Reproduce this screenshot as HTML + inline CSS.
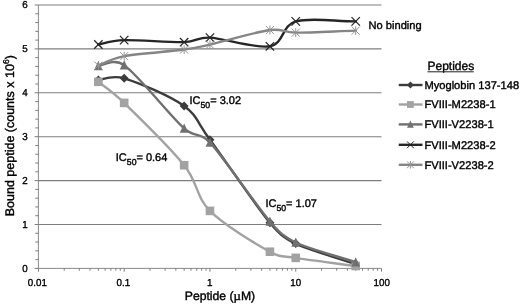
<!DOCTYPE html>
<html><head><meta charset="utf-8"><style>
html,body{margin:0;padding:0;background:#fff;}
svg{display:block;opacity:0.999;will-change:transform}
text{text-rendering:geometricPrecision;font-family:"Liberation Sans",sans-serif;fill:#000;stroke:#000;stroke-width:0.38px;}
.tk{stroke-width:0.35px}
</style></head><body>
<svg width="520" height="304" viewBox="0 0 520 304">
<rect width="520" height="304" fill="#fff"/>
<line x1="38.40" y1="224.50" x2="381.5" y2="224.50" stroke="#7e7e7e" stroke-width="1.1"/>
<line x1="38.40" y1="180.60" x2="381.5" y2="180.60" stroke="#7e7e7e" stroke-width="1.1"/>
<line x1="38.40" y1="136.70" x2="381.5" y2="136.70" stroke="#7e7e7e" stroke-width="1.1"/>
<line x1="38.40" y1="92.80" x2="381.5" y2="92.80" stroke="#7e7e7e" stroke-width="1.1"/>
<line x1="38.40" y1="48.90" x2="381.5" y2="48.90" stroke="#7e7e7e" stroke-width="1.1"/>
<line x1="38.40" y1="5.00" x2="381.5" y2="5.00" stroke="#7e7e7e" stroke-width="1.1"/>
<line x1="38.40" y1="5.00" x2="38.40" y2="268.40" stroke="#7c7c7c" stroke-width="0.9"/>
<line x1="38.40" y1="268.40" x2="381.5" y2="268.40" stroke="#7c7c7c" stroke-width="0.9"/>
<line x1="34.60" y1="268.40" x2="38.40" y2="268.40" stroke="#7c7c7c" stroke-width="1"/>
<line x1="35.30" y1="259.62" x2="38.40" y2="259.62" stroke="#7c7c7c" stroke-width="1"/>
<line x1="35.30" y1="250.84" x2="38.40" y2="250.84" stroke="#7c7c7c" stroke-width="1"/>
<line x1="35.30" y1="242.06" x2="38.40" y2="242.06" stroke="#7c7c7c" stroke-width="1"/>
<line x1="35.30" y1="233.28" x2="38.40" y2="233.28" stroke="#7c7c7c" stroke-width="1"/>
<line x1="34.60" y1="224.50" x2="38.40" y2="224.50" stroke="#7c7c7c" stroke-width="1"/>
<line x1="35.30" y1="215.72" x2="38.40" y2="215.72" stroke="#7c7c7c" stroke-width="1"/>
<line x1="35.30" y1="206.94" x2="38.40" y2="206.94" stroke="#7c7c7c" stroke-width="1"/>
<line x1="35.30" y1="198.16" x2="38.40" y2="198.16" stroke="#7c7c7c" stroke-width="1"/>
<line x1="35.30" y1="189.38" x2="38.40" y2="189.38" stroke="#7c7c7c" stroke-width="1"/>
<line x1="34.60" y1="180.60" x2="38.40" y2="180.60" stroke="#7c7c7c" stroke-width="1"/>
<line x1="35.30" y1="171.82" x2="38.40" y2="171.82" stroke="#7c7c7c" stroke-width="1"/>
<line x1="35.30" y1="163.04" x2="38.40" y2="163.04" stroke="#7c7c7c" stroke-width="1"/>
<line x1="35.30" y1="154.26" x2="38.40" y2="154.26" stroke="#7c7c7c" stroke-width="1"/>
<line x1="35.30" y1="145.48" x2="38.40" y2="145.48" stroke="#7c7c7c" stroke-width="1"/>
<line x1="34.60" y1="136.70" x2="38.40" y2="136.70" stroke="#7c7c7c" stroke-width="1"/>
<line x1="35.30" y1="127.92" x2="38.40" y2="127.92" stroke="#7c7c7c" stroke-width="1"/>
<line x1="35.30" y1="119.14" x2="38.40" y2="119.14" stroke="#7c7c7c" stroke-width="1"/>
<line x1="35.30" y1="110.36" x2="38.40" y2="110.36" stroke="#7c7c7c" stroke-width="1"/>
<line x1="35.30" y1="101.58" x2="38.40" y2="101.58" stroke="#7c7c7c" stroke-width="1"/>
<line x1="34.60" y1="92.80" x2="38.40" y2="92.80" stroke="#7c7c7c" stroke-width="1"/>
<line x1="35.30" y1="84.02" x2="38.40" y2="84.02" stroke="#7c7c7c" stroke-width="1"/>
<line x1="35.30" y1="75.24" x2="38.40" y2="75.24" stroke="#7c7c7c" stroke-width="1"/>
<line x1="35.30" y1="66.46" x2="38.40" y2="66.46" stroke="#7c7c7c" stroke-width="1"/>
<line x1="35.30" y1="57.68" x2="38.40" y2="57.68" stroke="#7c7c7c" stroke-width="1"/>
<line x1="34.60" y1="48.90" x2="38.40" y2="48.90" stroke="#7c7c7c" stroke-width="1"/>
<line x1="35.30" y1="40.12" x2="38.40" y2="40.12" stroke="#7c7c7c" stroke-width="1"/>
<line x1="35.30" y1="31.34" x2="38.40" y2="31.34" stroke="#7c7c7c" stroke-width="1"/>
<line x1="35.30" y1="22.56" x2="38.40" y2="22.56" stroke="#7c7c7c" stroke-width="1"/>
<line x1="35.30" y1="13.78" x2="38.40" y2="13.78" stroke="#7c7c7c" stroke-width="1"/>
<line x1="34.60" y1="5.00" x2="38.40" y2="5.00" stroke="#7c7c7c" stroke-width="1"/>
<line x1="38.40" y1="268.40" x2="38.40" y2="271.70" stroke="#7c7c7c" stroke-width="1"/>
<line x1="64.22" y1="268.40" x2="64.22" y2="270.70" stroke="#7c7c7c" stroke-width="1"/>
<line x1="79.33" y1="268.40" x2="79.33" y2="270.70" stroke="#7c7c7c" stroke-width="1"/>
<line x1="90.04" y1="268.40" x2="90.04" y2="270.70" stroke="#7c7c7c" stroke-width="1"/>
<line x1="98.36" y1="268.40" x2="98.36" y2="270.70" stroke="#7c7c7c" stroke-width="1"/>
<line x1="105.15" y1="268.40" x2="105.15" y2="270.70" stroke="#7c7c7c" stroke-width="1"/>
<line x1="110.89" y1="268.40" x2="110.89" y2="270.70" stroke="#7c7c7c" stroke-width="1"/>
<line x1="115.87" y1="268.40" x2="115.87" y2="270.70" stroke="#7c7c7c" stroke-width="1"/>
<line x1="120.25" y1="268.40" x2="120.25" y2="270.70" stroke="#7c7c7c" stroke-width="1"/>
<line x1="124.18" y1="268.40" x2="124.18" y2="271.70" stroke="#7c7c7c" stroke-width="1"/>
<line x1="150.00" y1="268.40" x2="150.00" y2="270.70" stroke="#7c7c7c" stroke-width="1"/>
<line x1="165.11" y1="268.40" x2="165.11" y2="270.70" stroke="#7c7c7c" stroke-width="1"/>
<line x1="175.82" y1="268.40" x2="175.82" y2="270.70" stroke="#7c7c7c" stroke-width="1"/>
<line x1="184.14" y1="268.40" x2="184.14" y2="270.70" stroke="#7c7c7c" stroke-width="1"/>
<line x1="190.93" y1="268.40" x2="190.93" y2="270.70" stroke="#7c7c7c" stroke-width="1"/>
<line x1="196.67" y1="268.40" x2="196.67" y2="270.70" stroke="#7c7c7c" stroke-width="1"/>
<line x1="201.65" y1="268.40" x2="201.65" y2="270.70" stroke="#7c7c7c" stroke-width="1"/>
<line x1="206.03" y1="268.40" x2="206.03" y2="270.70" stroke="#7c7c7c" stroke-width="1"/>
<line x1="209.96" y1="268.40" x2="209.96" y2="271.70" stroke="#7c7c7c" stroke-width="1"/>
<line x1="235.78" y1="268.40" x2="235.78" y2="270.70" stroke="#7c7c7c" stroke-width="1"/>
<line x1="250.89" y1="268.40" x2="250.89" y2="270.70" stroke="#7c7c7c" stroke-width="1"/>
<line x1="261.60" y1="268.40" x2="261.60" y2="270.70" stroke="#7c7c7c" stroke-width="1"/>
<line x1="269.92" y1="268.40" x2="269.92" y2="270.70" stroke="#7c7c7c" stroke-width="1"/>
<line x1="276.71" y1="268.40" x2="276.71" y2="270.70" stroke="#7c7c7c" stroke-width="1"/>
<line x1="282.45" y1="268.40" x2="282.45" y2="270.70" stroke="#7c7c7c" stroke-width="1"/>
<line x1="287.43" y1="268.40" x2="287.43" y2="270.70" stroke="#7c7c7c" stroke-width="1"/>
<line x1="291.81" y1="268.40" x2="291.81" y2="270.70" stroke="#7c7c7c" stroke-width="1"/>
<line x1="295.74" y1="268.40" x2="295.74" y2="271.70" stroke="#7c7c7c" stroke-width="1"/>
<line x1="321.56" y1="268.40" x2="321.56" y2="270.70" stroke="#7c7c7c" stroke-width="1"/>
<line x1="336.67" y1="268.40" x2="336.67" y2="270.70" stroke="#7c7c7c" stroke-width="1"/>
<line x1="347.38" y1="268.40" x2="347.38" y2="270.70" stroke="#7c7c7c" stroke-width="1"/>
<line x1="355.70" y1="268.40" x2="355.70" y2="270.70" stroke="#7c7c7c" stroke-width="1"/>
<line x1="362.49" y1="268.40" x2="362.49" y2="270.70" stroke="#7c7c7c" stroke-width="1"/>
<line x1="368.23" y1="268.40" x2="368.23" y2="270.70" stroke="#7c7c7c" stroke-width="1"/>
<line x1="373.21" y1="268.40" x2="373.21" y2="270.70" stroke="#7c7c7c" stroke-width="1"/>
<line x1="377.59" y1="268.40" x2="377.59" y2="270.70" stroke="#7c7c7c" stroke-width="1"/>
<line x1="381.52" y1="268.40" x2="381.52" y2="271.70" stroke="#7c7c7c" stroke-width="1"/>
<path d="M98.36,80.07 C102.09,79.82 111.79,74.57 124.18,78.31 C138.48,82.63 169.84,95.73 184.14,105.97 C196.73,114.99 197.37,122.63 209.96,139.77 C224.26,159.24 255.62,205.44 269.92,222.74 C280.49,235.54 285.17,238.51 295.74,243.60 C310.04,250.47 335.71,257.21 355.70,264.01" stroke="#3c3c3c" stroke-width="2.40" fill="none" stroke-linecap="round" stroke-linejoin="round"/>
<path d="M98.36,75.57 l4.50,4.50 l-4.50,4.50 l-4.50,-4.50 z" fill="#3c3c3c"/>
<path d="M124.18,73.81 l4.50,4.50 l-4.50,4.50 l-4.50,-4.50 z" fill="#3c3c3c"/>
<path d="M184.14,101.47 l4.50,4.50 l-4.50,4.50 l-4.50,-4.50 z" fill="#3c3c3c"/>
<path d="M209.96,135.27 l4.50,4.50 l-4.50,4.50 l-4.50,-4.50 z" fill="#3c3c3c"/>
<path d="M269.92,218.24 l4.50,4.50 l-4.50,4.50 l-4.50,-4.50 z" fill="#3c3c3c"/>
<path d="M295.74,239.10 l4.50,4.50 l-4.50,4.50 l-4.50,-4.50 z" fill="#3c3c3c"/>
<path d="M355.70,259.51 l4.50,4.50 l-4.50,4.50 l-4.50,-4.50 z" fill="#3c3c3c"/>
<path d="M98.36,81.82 C101.95,84.76 112.23,91.28 124.18,102.90 C138.48,116.80 169.84,147.24 184.14,165.23 C198.43,183.23 195.66,196.48 209.96,210.89 C224.26,225.30 255.62,243.89 269.92,251.72 C281.56,258.09 282.65,255.69 295.74,257.86 C310.04,260.24 335.71,263.28 355.70,265.99" stroke="#a2a2a2" stroke-width="2.40" fill="none" stroke-linecap="round" stroke-linejoin="round"/>
<rect x="94.06" y="77.52" width="8.60" height="8.60" fill="#a2a2a2"/>
<rect x="119.88" y="98.60" width="8.60" height="8.60" fill="#a2a2a2"/>
<rect x="179.84" y="160.93" width="8.60" height="8.60" fill="#a2a2a2"/>
<rect x="205.66" y="206.59" width="8.60" height="8.60" fill="#a2a2a2"/>
<rect x="265.62" y="247.42" width="8.60" height="8.60" fill="#a2a2a2"/>
<rect x="291.44" y="253.56" width="8.60" height="8.60" fill="#a2a2a2"/>
<rect x="351.40" y="261.69" width="8.60" height="8.60" fill="#a2a2a2"/>
<path d="M98.36,66.02 C101.50,65.91 113.73,57.55 124.18,65.14 C138.48,75.53 169.84,115.48 184.14,128.36 C195.06,138.20 200.00,131.60 209.96,142.41 C224.26,157.92 255.62,204.74 269.92,221.43 C280.76,234.08 284.90,237.34 295.74,242.50 C310.04,249.30 335.71,255.67 355.70,262.25" stroke="#707070" stroke-width="2.40" fill="none" stroke-linecap="round" stroke-linejoin="round"/>
<path d="M98.36,61.08 l4.39,9.24 l-8.77,0 z" fill="#707070"/>
<path d="M124.18,60.20 l4.39,9.24 l-8.77,0 z" fill="#707070"/>
<path d="M184.14,123.41 l4.39,9.24 l-8.77,0 z" fill="#707070"/>
<path d="M209.96,137.46 l4.39,9.24 l-8.77,0 z" fill="#707070"/>
<path d="M269.92,216.48 l4.39,9.24 l-8.77,0 z" fill="#707070"/>
<path d="M295.74,237.55 l4.39,9.24 l-8.77,0 z" fill="#707070"/>
<path d="M355.70,257.31 l4.39,9.24 l-8.77,0 z" fill="#707070"/>
<path d="M98.36,44.51 C102.30,43.84 111.09,40.48 124.18,40.12 C138.48,39.72 169.84,42.56 184.14,42.14 C197.24,41.76 196.87,36.99 209.96,37.62 C224.26,38.31 255.62,48.97 269.92,46.27 C284.21,43.56 281.44,25.52 295.74,21.37 C310.04,17.23 335.71,21.37 355.70,21.37" stroke="#262626" stroke-width="2.40" fill="none" stroke-linecap="round" stroke-linejoin="round"/>
<path d="M94.16,40.31 l8.40,8.40 M94.16,48.71 l8.40,-8.40" stroke="#262626" stroke-width="1.25" fill="none"/>
<path d="M119.98,35.92 l8.40,8.40 M119.98,44.32 l8.40,-8.40" stroke="#262626" stroke-width="1.25" fill="none"/>
<path d="M179.94,37.94 l8.40,8.40 M179.94,46.34 l8.40,-8.40" stroke="#262626" stroke-width="1.25" fill="none"/>
<path d="M205.76,33.42 l8.40,8.40 M205.76,41.82 l8.40,-8.40" stroke="#262626" stroke-width="1.25" fill="none"/>
<path d="M265.72,42.07 l8.40,8.40 M265.72,50.47 l8.40,-8.40" stroke="#262626" stroke-width="1.25" fill="none"/>
<path d="M291.54,17.17 l8.40,8.40 M291.54,25.57 l8.40,-8.40" stroke="#262626" stroke-width="1.25" fill="none"/>
<path d="M351.50,17.17 l8.40,8.40 M351.50,25.57 l8.40,-8.40" stroke="#262626" stroke-width="1.25" fill="none"/>
<path d="M98.36,65.58 C102.43,64.10 110.67,58.67 124.18,56.14 C138.48,53.47 169.84,51.48 184.14,49.56 C197.16,47.81 197.14,47.56 209.96,44.64 C224.26,41.39 255.62,32.02 269.92,30.02 C282.77,28.23 282.76,32.56 295.74,32.66 C310.04,32.76 335.71,31.31 355.70,30.64" stroke="#858585" stroke-width="2.40" fill="none" stroke-linecap="round" stroke-linejoin="round"/>
<path d="M94.36,61.58 l8.00,8.00 M94.36,69.58 l8.00,-8.00 M98.36,61.18 l0,8.80" stroke="#949494" stroke-width="1" fill="none"/>
<path d="M120.18,52.14 l8.00,8.00 M120.18,60.14 l8.00,-8.00 M124.18,51.74 l0,8.80" stroke="#949494" stroke-width="1" fill="none"/>
<path d="M180.14,45.56 l8.00,8.00 M180.14,53.56 l8.00,-8.00 M184.14,45.16 l0,8.80" stroke="#949494" stroke-width="1" fill="none"/>
<path d="M205.96,40.64 l8.00,8.00 M205.96,48.64 l8.00,-8.00 M209.96,40.24 l0,8.80" stroke="#949494" stroke-width="1" fill="none"/>
<path d="M265.92,26.02 l8.00,8.00 M265.92,34.02 l8.00,-8.00 M269.92,25.62 l0,8.80" stroke="#949494" stroke-width="1" fill="none"/>
<path d="M291.74,28.66 l8.00,8.00 M291.74,36.66 l8.00,-8.00 M295.74,28.26 l0,8.80" stroke="#949494" stroke-width="1" fill="none"/>
<path d="M351.70,26.64 l8.00,8.00 M351.70,34.64 l8.00,-8.00 M355.70,26.24 l0,8.80" stroke="#949494" stroke-width="1" fill="none"/>
<line x1="398.75" y1="85.00" x2="422.5" y2="85.00" stroke="#3c3c3c" stroke-width="2.40"/>
<path d="M410.40,81.60 l3.40,3.40 l-3.40,3.40 l-3.40,-3.40 z" fill="#3c3c3c"/>
<line x1="398.75" y1="104.50" x2="422.5" y2="104.50" stroke="#a2a2a2" stroke-width="2.40"/>
<rect x="407.00" y="101.10" width="6.80" height="6.80" fill="#a2a2a2"/>
<line x1="398.75" y1="124.40" x2="422.5" y2="124.40" stroke="#707070" stroke-width="2.40"/>
<path d="M410.40,120.61 l3.37,7.09 l-6.73,0 z" fill="#707070"/>
<line x1="398.75" y1="144.80" x2="422.5" y2="144.80" stroke="#262626" stroke-width="2.40"/>
<path d="M407.00,141.40 l6.80,6.80 M407.00,148.20 l6.80,-6.80" stroke="#262626" stroke-width="1.00" fill="none"/>
<line x1="398.75" y1="164.80" x2="422.5" y2="164.80" stroke="#858585" stroke-width="2.40"/>
<path d="M407.00,161.40 l6.80,6.80 M407.00,168.20 l6.80,-6.80 M410.40,161.00 l0,7.60" stroke="#949494" stroke-width="1" fill="none"/>
<text x="424.4" y="88.70" font-size="11.15">Myoglobin 137-148</text>
<text x="424.4" y="108.20" font-size="11.15">FVIII-M2238-1</text>
<text x="424.4" y="128.10" font-size="11.15">FVIII-V2238-1</text>
<text x="424.4" y="148.50" font-size="11.15">FVIII-M2238-2</text>
<text x="424.4" y="168.50" font-size="11.15">FVIII-V2238-2</text>
<text x="427.5" y="70" font-size="12">Peptides</text>
<line x1="427.5" y1="71.8" x2="473.8" y2="71.8" stroke="#222" stroke-width="1"/>
<text x="368.6" y="29.2" font-size="11.1">No binding</text>
<text x="189.50" y="103.50" font-size="11">IC<tspan font-size="8.7" dy="4.3">50</tspan><tspan dy="-4.3">= 3.02</tspan></text>
<text x="115.80" y="160.80" font-size="11">IC<tspan font-size="8.7" dy="4.3">50</tspan><tspan dy="-4.3">= 0.64</tspan></text>
<text x="265.40" y="207.00" font-size="11">IC<tspan font-size="8.7" dy="4.3">50</tspan><tspan dy="-4.3">= 1.07</tspan></text>
<text transform="translate(27.8,271.50) scale(0.97,1)" font-size="10.1" text-anchor="end" class="tk">0</text>
<text transform="translate(27.8,227.60) scale(0.97,1)" font-size="10.1" text-anchor="end" class="tk">1</text>
<text transform="translate(27.8,183.70) scale(0.97,1)" font-size="10.1" text-anchor="end" class="tk">2</text>
<text transform="translate(27.8,139.80) scale(0.97,1)" font-size="10.1" text-anchor="end" class="tk">3</text>
<text transform="translate(27.8,95.90) scale(0.97,1)" font-size="10.1" text-anchor="end" class="tk">4</text>
<text transform="translate(27.8,52.00) scale(0.97,1)" font-size="10.1" text-anchor="end" class="tk">5</text>
<text transform="translate(27.8,8.10) scale(0.97,1)" font-size="10.1" text-anchor="end" class="tk">6</text>
<text transform="translate(37.30,286.1) scale(0.97,1)" font-size="10.1" text-anchor="middle" class="tk">0.01</text>
<text transform="translate(123.38,286.1) scale(0.97,1)" font-size="10.1" text-anchor="middle" class="tk">0.1</text>
<text transform="translate(209.66,286.1) scale(0.97,1)" font-size="10.1" text-anchor="middle" class="tk">1</text>
<text transform="translate(295.64,286.1) scale(0.97,1)" font-size="10.1" text-anchor="middle" class="tk">10</text>
<text transform="translate(381.72,286.1) scale(0.97,1)" font-size="10.1" text-anchor="middle" class="tk">100</text>
<text x="184.8" y="300" font-size="12.2">Peptide (<tspan font-family="Liberation Serif" font-size="12.8">µ</tspan>M)</text>
<text transform="translate(13.7,216.3) rotate(-90)" font-size="12.5">Bound peptide (counts x 10<tspan font-size="8.5" dy="-4.5">6</tspan><tspan dy="4.5">)</tspan></text>
</svg></body></html>
